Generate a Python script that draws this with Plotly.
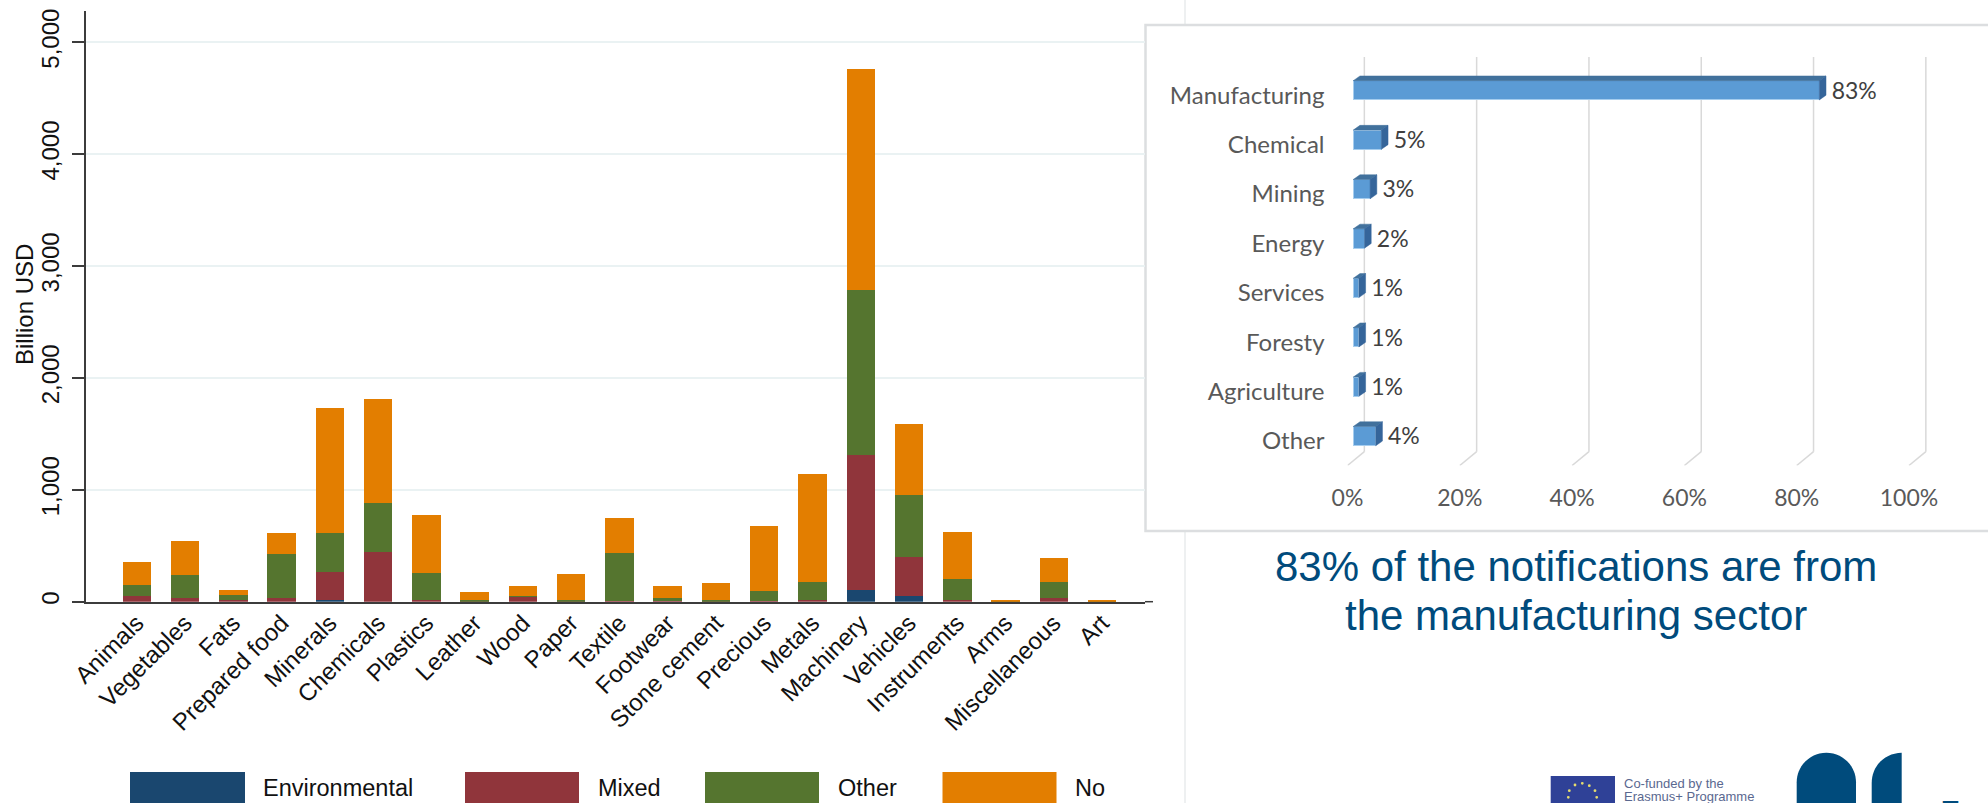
import plotly.graph_objects as go

# ---------- data ----------
hs_sections = ["Animals", "Vegetables", "Fats", "Prepared food", "Minerals", "Chemicals", "Plastics",
               "Leather", "Wood", "Paper", "Textile", "Footwear", "Stone cement", "Precious", "Metals",
               "Machinery", "Vehicles", "Instruments", "Arms", "Miscellaneous", "Art"]
environmental = [0, 0, 0, 0, 15, 0, 0, 0, 0, 0, 0, 0, 0, 0, 0, 104, 48, 0, 0, 0, 0]
mixed = [50, 36, 15, 30, 250, 447, 12, 2, 48, 2, 5, 2, 2, 2, 12, 1204, 354, 12, 1, 36, 2]
other = [99, 205, 45, 396, 346, 438, 241, 13, 2, 10, 433, 28, 13, 90, 161, 1474, 551, 194, 1, 137, 1]
no = [208, 298, 44, 185, 1123, 929, 519, 68, 90, 232, 310, 110, 149, 587, 965, 1983, 632, 414, 13, 217, 12]
series_names = ["Environmental", "Mixed", "Other", "No"]
series_colors = ["#1a476f", "#90353b", "#55752f", "#e37e00"]

sectors = ["Manufacturing", "Chemical", "Mining", "Energy", "Services", "Foresty", "Agriculture", "Other"]
sector_share = [83, 5, 3, 2, 1, 1, 1, 4]
share_ticks = [0, 20, 40, 60, 80, 100]

headline = ["83% of the notifications are from", "the manufacturing sector"]
W, H = 1988, 803


def px(x):
    return x / W


def py(y):
    return 1 - y / H


fig = go.Figure()

# ---------- left stacked bars ----------
for name, color, vals in zip(series_names, series_colors, [environmental, mixed, other, no]):
    fig.add_trace(go.Bar(x=list(range(len(hs_sections))), y=vals, name=name, width=0.59,
                         marker=dict(color=color, line=dict(width=0)),
                         xaxis="x", yaxis="y", showlegend=False))

# ---------- right pseudo-3D bars ----------
BASE = 1.03       # bar starts slightly behind the axis front edge
DX, DY = 1.19, 0.095   # depth of the faces
WALL_X, WALL_Y = 3.0, 7.315
idx = list(range(len(sectors)))
fig.add_trace(go.Bar(y=idx, x=sector_share, base=BASE, orientation="h", width=0.39,
                     marker=dict(color="#5b9bd5", line=dict(color="#a6cdee", width=1)),
                     xaxis="x2", yaxis="y2", showlegend=False))
top_x, top_y, side_x, side_y = [], [], [], []
for i, v in zip(idx, sector_share):
    x0, x1 = BASE, BASE + v
    yt, yb = i - 0.195, i + 0.195
    top_x += [x0, x0 + DX, x1 + DX, x1, x0, None]
    top_y += [yt, yt - DY, yt - DY, yt, yt, None]
    side_x += [x1, x1 + DX, x1 + DX, x1, x1, None]
    side_y += [yt, yt - DY, yb - DY, yb, yt, None]
for xs, ys, c in [(top_x, top_y, "#41719c"), (side_x, side_y, "#35659a")]:
    fig.add_trace(go.Scatter(x=xs, y=ys, mode="lines", fill="toself", fillcolor=c,
                             line=dict(color=c, width=0.5), xaxis="x2", yaxis="y2",
                             showlegend=False, hoverinfo="skip"))
fig.add_trace(go.Scatter(x=[BASE + v + DX + 1.0 for v in sector_share], y=[i + 0.05 for i in idx],
                         text=[f"{v}%" for v in sector_share], mode="text",
                         textposition="middle right",
                         textfont=dict(family="Lato", size=23, color="#404040"),
                         xaxis="x2", yaxis="y2", showlegend=False, cliponaxis=False))

# ---------- shapes ----------
shapes = []
# slide divider, then the white panel
shapes.append(dict(type="line", xref="paper", yref="paper", x0=px(1185), x1=px(1185), y0=0, y1=1,
                   line=dict(color="#e9ebec", width=1.5), layer="below"))
shapes.append(dict(type="rect", xref="paper", yref="paper", x0=px(1145.5), x1=px(1995), y0=py(531), y1=py(25),
                   fillcolor="white", line=dict(color="#dcdee0", width=2.5), layer="below"))
# baseline extension under the panel edge
shapes.append(dict(type="line", xref="paper", yref="paper", x0=px(1145), x1=px(1153), y0=py(601.7), y1=py(601.7),
                   line=dict(color="#3c3c3c", width=1.5)))
# back wall and floor lines of the right chart
for t in share_ticks:
    shapes.append(dict(type="line", xref="x2", yref="y2", x0=t + WALL_X, x1=t + WALL_X, y0=-0.674, y1=WALL_Y,
                       line=dict(color="#d9d9d9", width=1.5), layer="between"))
    shapes.append(dict(type="line", xref="x2", yref="y2", x0=t + WALL_X, x1=t, y0=WALL_Y, y1=7.595,
                       line=dict(color="#d9d9d9", width=1.5), layer="between"))
# legend swatches
legend_boxes = [(130, 245), (465, 579), (705, 819), (942.5, 1056.5)]
legend_text_x = [261, 596, 836, 1073]
for (a, b), c in zip(legend_boxes, series_colors):
    shapes.append(dict(type="rect", xref="paper", yref="paper", x0=px(a), x1=px(b), y0=py(810), y1=py(772),
                       fillcolor=c, line=dict(width=0)))
# EU flag
shapes.append(dict(type="rect", xref="paper", yref="paper", x0=px(1550.7), x1=px(1615), y0=py(810), y1=py(776),
                   fillcolor="#2f4197", line=dict(width=0)))
for sx, sy in [(1582.3, 783.3), (1575, 785), (1589.3, 785.7), (1569.3, 790.7), (1595, 790.7), (1568.3, 797.3), (1596.7, 797.3)]:
    shapes.append(dict(type="circle", xref="paper", yref="paper", x0=px(sx - 1.4), x1=px(sx + 1.4),
                       y0=py(sy + 1.4), y1=py(sy - 1.4), fillcolor="#e6dc6e", line=dict(width=0)))


# logo arches
def P(x, y):
    return f"{px(x):.5f},{py(y):.5f}"


x0, x1, top = 1796.7, 1856, 752.7
r = (x1 - x0) / 2
k = 0.5523 * r
shapes.append(dict(type="path", xref="paper", yref="paper", fillcolor="#004b7c", line=dict(width=0),
                   path=f"M{P(x0, 810)} L{P(x0, top + r)} C{P(x0, top + r - k)} {P(x0 + r - k, top)} {P(x0 + r, top)} "
                        f"C{P(x0 + r + k, top)} {P(x1, top + r - k)} {P(x1, top + r)} L{P(x1, 810)} Z"))
x0, x1 = 1871.7, 1901.7
shapes.append(dict(type="path", xref="paper", yref="paper", fillcolor="#004b7c", line=dict(width=0),
                   path=f"M{P(x0, 810)} L{P(x0, 783)} C{P(x0, 766)} {P(x0 + 13, 753)} {P(x1, top)} L{P(x1, 810)} Z"))

# ---------- annotations ----------
ann = []
for name, tx in zip(series_names, legend_text_x):
    ann.append(dict(xref="paper", yref="paper", x=px(tx), y=py(788), text=name, showarrow=False,
                    xanchor="left", yanchor="middle", font=dict(family="Liberation Sans", size=23.5, color="#111111")))
for line, ty in zip(headline, [566, 615]):
    ann.append(dict(xref="paper", yref="paper", x=px(1576), y=py(ty), text=line, showarrow=False,
                    xanchor="center", yanchor="middle", font=dict(family="Liberation Sans", size=42, color="#004b7c")))
ann.append(dict(xref="paper", yref="paper", x=px(25), y=py(305), text="Billion USD", showarrow=False, textangle=-90,
                xanchor="center", yanchor="middle", font=dict(family="Liberation Sans", size=24, color="#111111")))
ann.append(dict(xref="paper", yref="paper", x=px(1622), y=py(783), text="Co-funded by the", showarrow=False,
                xanchor="left", yanchor="middle", font=dict(family="Liberation Sans", size=13, color="#5a6890")))
ann.append(dict(xref="paper", yref="paper", x=px(1622), y=py(796), text="Erasmus+ Programme", showarrow=False,
                xanchor="left", yanchor="middle", font=dict(family="Liberation Sans", size=13, color="#5a6890")))
ann.append(dict(xref="paper", yref="paper", x=px(1950), y=py(812), text="7", showarrow=False,
                xanchor="center", yanchor="middle", font=dict(family="Liberation Sans", size=34, color="#004b7c")))

# ---------- layout ----------
fig.update_layout(
    width=W, height=H, margin=dict(l=0, r=0, t=0, b=0, autoexpand=False), barmode="stack", bargap=0.41,
    paper_bgcolor="white", plot_bgcolor="rgba(0,0,0,0)", showlegend=False,
    font=dict(family="Liberation Sans"), shapes=shapes, annotations=ann,
    xaxis=dict(domain=[px(86), px(1145)], range=[-1.053, 20.89], tickmode="array",
               tickvals=list(range(len(hs_sections))), ticktext=hs_sections, tickangle=-45,
               tickfont=dict(family="Liberation Sans", size=24, color="#111111"), ticks="", showgrid=False,
               showline=True, linecolor="#3c3c3c", linewidth=1.5, zeroline=False, ticklabelstandoff=-4),
    yaxis=dict(domain=[py(601.7), py(11)], range=[0, 5279], tickvals=[0, 1000, 2000, 3000, 4000, 5000],
               tickformat=",", tickangle=-90, tickfont=dict(family="Liberation Sans", size=24, color="#111111"),
               ticks="outside", ticklen=12, tickwidth=1.5, tickcolor="#3c3c3c", showline=True, linecolor="#3c3c3c",
               linewidth=1.5, showgrid=True, gridcolor="#eaf2f3", gridwidth=1.5, zeroline=False, ticklabelstandoff=4),
    xaxis2=dict(domain=[px(1347.5), px(1940)], range=[0, 105.52], anchor="y2", tickmode="array", tickvals=share_ticks,
                ticktext=[f"{t}%" for t in share_ticks], tickfont=dict(family="Lato", size=23, color="#595959"),
                ticks="", showgrid=False, zeroline=False, showline=False, ticklabelstandoff=16),
    yaxis2=dict(domain=[py(465.5), py(57)], range=[7.595, -0.674], anchor="x2", tickmode="array",
                tickvals=[i + 0.1 for i in idx], ticktext=sectors, tickfont=dict(family="Lato", size=24, color="#595959"),
                ticks="", showgrid=False, zeroline=False, showline=False, ticklabelstandoff=22),
)

fig.write_html("out.html", config={"displayModeBar": False},
               post_script="document.body.style.margin='0';document.body.style.overflow='hidden';")
